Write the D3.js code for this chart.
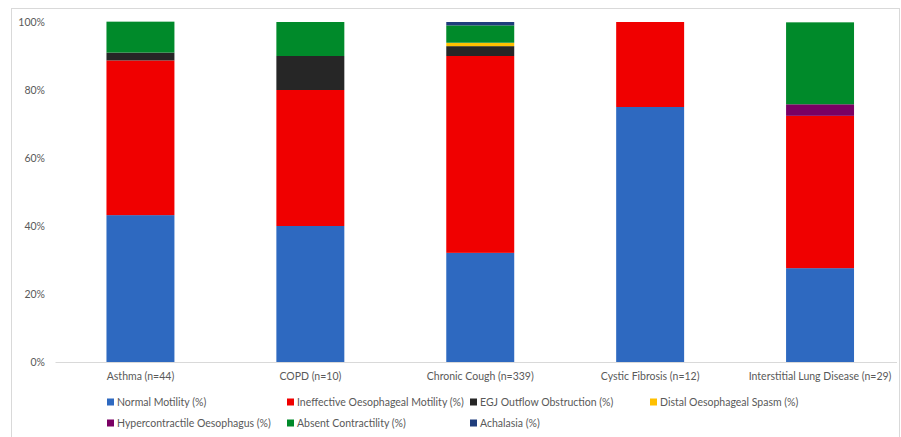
<!DOCTYPE html>
<html>
<head>
<meta charset="utf-8">
<script src="https://cdn.jsdelivr.net/npm/d3@7"></script>
<style>
  body { margin: 0; background: #fff; }
  svg { display: block; font-family: Lato, "Open Sans", sans-serif; }
  text { fill: #595959; }
</style>
</head>
<body>
<svg id="chart" width="901" height="437"></svg>
<script>
const categories = [
  "Asthma (n=44)",
  "COPD (n=10)",
  "Chronic Cough (n=339)",
  "Cystic Fibrosis (n=12)",
  "Interstitial Lung Disease (n=29)",
];
const seriesNames = [
  "Normal Motility (%)",
  "Ineffective Oesophageal Motility (%)",
  "EGJ Outflow Obstruction (%)",
  "Distal Oesophageal Spasm (%)",
  "Hypercontractile Oesophagus (%)",
  "Absent Contractility (%)",
  "Achalasia (%)",
];
// values per series, in category order
const normalMotility = [43.2, 40, 32.1, 75, 27.6];
const ineffectiveMotility = [45.5, 40, 57.9, 25, 44.8];
const egjObstruction = [2.3, 10, 2.9, 0, 0];
const distalSpasm = [0, 0, 1.0, 0, 0];
const hypercontractile = [0, 0, 0, 0, 3.4];
const absentContractility = [9.1, 10, 5.1, 0, 24.1];
const achalasia = [0, 0, 1.0, 0, 0];
const yTicks = [0, 20, 40, 60, 80, 100];

const seriesValues = [
  normalMotility,
  ineffectiveMotility,
  egjObstruction,
  distalSpasm,
  hypercontractile,
  absentContractility,
  achalasia,
];
const colors = ["#2E69C0", "#F00000", "#262626", "#FFC000", "#7A0064", "#008A2A", "#1F3D7C"];

const table = categories.map((c, i) => {
  const row = { category: c };
  seriesNames.forEach((s, j) => { row[s] = seriesValues[j][i]; });
  return row;
});

const FONT_SIZE = 10.5;
const svg = d3.select("#chart");

// outer chart border (cropped on the right/bottom)
svg.append("rect")
  .attr("x", 11.5).attr("y", 8.5)
  .attr("width", 888).attr("height", 440)
  .attr("fill", "none")
  .attr("stroke", "#D9D9D9");

const plot = { left: 55.5, right: 905, top: 22, bottom: 362 };

const x = d3.scaleBand()
  .domain(categories)
  .range([plot.left, plot.right])
  .paddingInner(0.6)
  .paddingOuter(0.3);
const y = d3.scaleLinear()
  .domain([0, 100])
  .range([plot.bottom, plot.top]);
const color = d3.scaleOrdinal().domain(seriesNames).range(colors);

const stacked = d3.stack().keys(seriesNames)(table);

// baseline
svg.append("line")
  .attr("x1", plot.left).attr("x2", 897)
  .attr("y1", y(0) + 0.5).attr("y2", y(0) + 0.5)
  .attr("stroke", "#D9D9D9");

svg.append("g")
  .selectAll("g")
  .data(stacked)
  .join("g")
  .attr("fill", (d) => color(d.key))
  .selectAll("rect")
  .data((d) => d)
  .join("rect")
  .attr("x", (d) => x(d.data.category))
  .attr("width", x.bandwidth())
  .attr("y", (d) => y(d[1]))
  .attr("height", (d) => Math.max(0, y(d[0]) - y(d[1])));

// y axis labels
const yAxisG = svg.append("g")
  .attr("transform", "translate(55,0)")
  .call(d3.axisLeft(y).tickValues(yTicks).tickFormat((d) => d + "%").tickSize(0).tickPadding(10));
yAxisG.select(".domain").remove();
yAxisG.selectAll("text").attr("font-size", FONT_SIZE).attr("font-family", "Lato, sans-serif").attr("fill", "#595959");

// x axis labels
const xAxisG = svg.append("g")
  .attr("transform", `translate(0,${plot.bottom})`)
  .call(d3.axisBottom(x).tickSize(0).tickPadding(11));
xAxisG.select(".domain").remove();
xAxisG.selectAll("text").attr("font-size", FONT_SIZE).attr("font-family", "Lato, sans-serif").attr("fill", "#595959");

// legend: Excel-style grid, 4 columns x 2 rows
const legendCols = [107, 287, 470, 650];
const legendRows = [402, 423];
const legend = svg.append("g").attr("class", "legend");
seriesNames.forEach((name, i) => {
  const lx = legendCols[i % 4];
  const ly = legendRows[Math.floor(i / 4)];
  const item = legend.append("g").attr("transform", `translate(${lx},${ly})`);
  item.append("rect")
    .attr("x", 0).attr("y", -3.5)
    .attr("width", 7).attr("height", 7)
    .attr("fill", color(name));
  item.append("text")
    .attr("x", 10).attr("y", 0)
    .attr("dy", "0.35em")
    .attr("font-size", FONT_SIZE)
    .text(name);
});
</script>
</body>
</html>
